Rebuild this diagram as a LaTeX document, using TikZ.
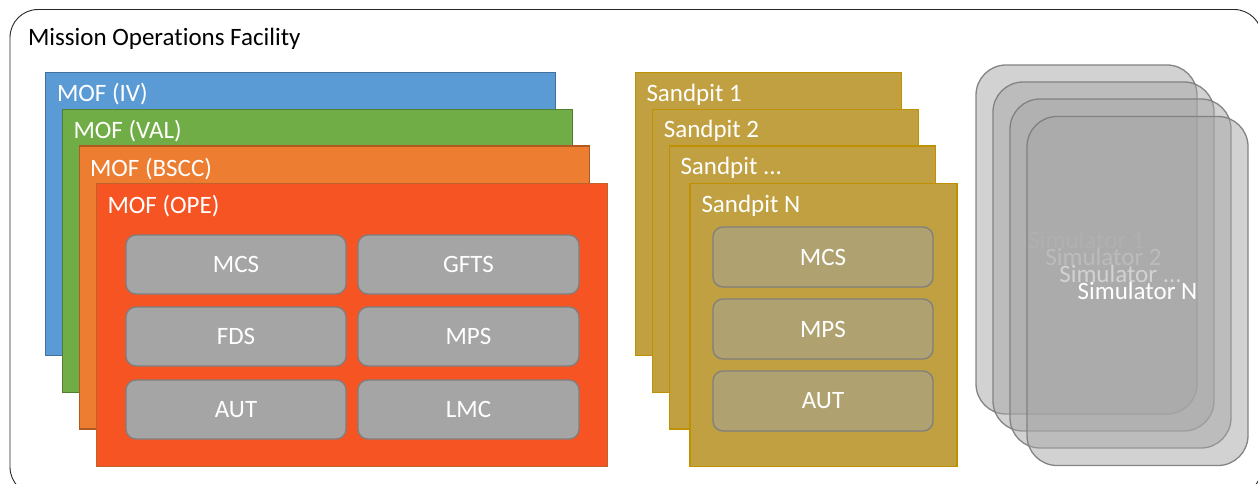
\documentclass[tikz,border=0pt]{standalone}
\usepackage{fontspec}
\setmainfont{Carlito}[Ligatures=NoCommon]
\definecolor{mofblue}{HTML}{5B9BD5}
\definecolor{mofblueb}{HTML}{41719C}
\definecolor{mofgreen}{HTML}{70AD47}
\definecolor{mofgreenb}{HTML}{507E32}
\definecolor{moforange}{HTML}{ED7D31}
\definecolor{moforangeb}{HTML}{AE5A21}
\definecolor{mofred}{HTML}{F75424}
\definecolor{mofredb}{HTML}{C0622A}
\definecolor{sandfill}{HTML}{C0A040}
\definecolor{sandb}{HTML}{BF9000}
\definecolor{sandinner}{HTML}{B0A270}
\definecolor{svcgrey}{HTML}{A5A5A5}
\definecolor{svcborder}{HTML}{7F7F7F}
\definecolor{simfill}{HTML}{A6A6A6}
\begin{document}
\begin{tikzpicture}[x=1pt,y=-1pt,
  every node/.style={font=\fontsize{25}{30}\selectfont, text=white, inner sep=0pt, outer sep=0pt},
  moflayer/.style 2 args={fill=#1, draw=#2, line width=1.2pt, anchor=north west,
    minimum width=510pt, minimum height=283pt},
  sandlayer/.style={fill=sandfill, draw=sandb, line width=1.2pt, anchor=north west,
    minimum width=266pt, minimum height=283pt},
  svcbox/.style={fill=svcgrey, draw=svcborder, line width=1.3pt, rounded corners=10pt,
    minimum width=220pt, minimum height=59pt},
  sandsvc/.style={fill=sandinner, draw=svcborder, line width=1.3pt, rounded corners=10pt,
    minimum width=220pt, minimum height=60pt},
  simbox/.style={fill=simfill, fill opacity=0.5, text opacity=1, draw=svcborder, draw opacity=0.95,
    line width=1.3pt, rounded corners=30pt, anchor=north west,
    minimum width=221pt, minimum height=349pt},
  lbl/.style={anchor=base west}]
\useasboundingbox (0,0) rectangle (1258,484);
% outer frame
\draw[line width=0.9pt, draw=black!85, rounded corners=28pt] (10,9.5) rectangle (1262,495);
\node[lbl, text=black] (title) at (28,46) {Mission Operations Facility};
% MOF stack
\node[moflayer={mofblue}{mofblueb}] (iv) at (45.3,72.7) {};
\node[lbl] (ivl) at (57,101.7) {MOF (IV)};
\node[moflayer={mofgreen}{mofgreenb}] (val) at (62.3,109.3) {};
\node[lbl] (vall) at (73.5,138.5) {MOF (VAL)};
\node[moflayer={moforange}{moforangeb}] (bscc) at (79.3,146) {};
\node[lbl] (bsccl) at (90,176) {MOF (BSCC)};
\node[moflayer={mofred}{mofredb}, minimum width=510.5pt] (ope) at (96.7,183.3) {};
\node[lbl] (opel) at (107.5,213) {MOF (OPE)};
% services in OPE
\node[svcbox] (mcs) at (236,264.5) {MCS};
\node[svcbox, minimum width=221pt] (gfts) at (468.5,264.5) {GFTS};
\node[svcbox] (fds) at (236,336.5) {FDS};
\node[svcbox, minimum width=221pt] (mps) at (468.5,336.5) {MPS};
\node[svcbox] (aut) at (236,409.5) {AUT};
\node[svcbox, minimum width=221pt] (lmc) at (468.5,409.5) {LMC};
% Sandpits
\node[sandlayer] (sp1) at (635.3,72.7) {};
\node[lbl] (sp1l) at (646.5,101.7) {Sandpit 1};
\node[sandlayer] (sp2) at (652.3,109.3) {};
\node[lbl] (sp2l) at (663.8,138) {Sandpit 2};
\node[sandlayer] (sp3) at (669.3,146) {};
\node[lbl] (sp3l) at (680.5,175) {Sandpit ...};
\node[sandlayer, minimum width=267pt] (spn) at (690,183.3) {};
\node[lbl] (spnl) at (701.5,212.7) {Sandpit N};
\node[sandsvc] (smcs) at (823,257) {MCS};
\node[sandsvc] (smps) at (823,329) {MPS};
\node[sandsvc] (saut) at (823,401) {AUT};
% Simulators
\node[simbox] (sim1) at (976,65) {Simulator 1};
\node[simbox] (sim2) at (993,82) {Simulator 2};
\node[simbox] (sim3) at (1010,99) {Simulator ...};
\node[simbox] (simn) at (1027,116.5) {Simulator N};
\end{tikzpicture}
\end{document}
